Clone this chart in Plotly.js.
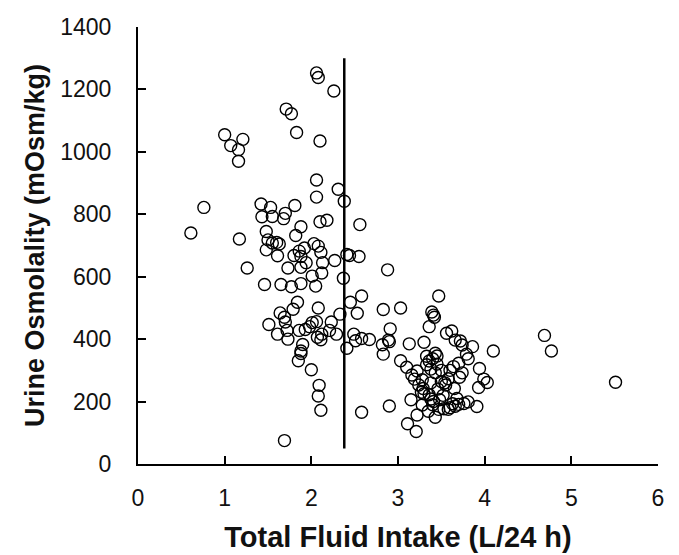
<!DOCTYPE html>
<html>
<head>
<meta charset="utf-8">
<script src="https://cdn.plot.ly/plotly-3.0.1.min.js"></script>
<style>html,body{margin:0;padding:0;background:#fff}#chart{width:679px;height:555px}</style>
</head>
<body>
<div id="chart"></div>
<script>
// Total fluid intake (L/24 h)
const fluidIntake = [
  0.61,0.76,1.00,1.07,1.16,1.16,1.21,1.17,1.26,
  1.71,1.77,1.83,2.06,2.08,2.26,2.10,2.06,2.06,2.31,2.38,
  1.42,1.53,1.81,1.70,1.43,1.55,1.68,2.10,2.18,2.56,1.88,
  1.48,1.50,1.55,1.60,1.63,1.48,1.82,2.03,2.08,1.92,1.86,1.80,2.11,1.61,2.27,2.41,2.44,2.55,1.88,1.94,2.13,1.73,1.88,2.01,2.12,2.37,2.88,
  1.46,1.65,1.88,1.77,2.05,2.58,1.84,2.45,1.79,2.08,2.53,2.33,2.83,3.03,
  1.64,1.69,1.51,2.01,2.06,2.23,1.70,1.61,1.72,1.86,1.93,1.98,2.21,2.29,2.12,2.07,2.11,1.73,1.90,1.88,1.88,1.85,2.00,2.09,2.08,2.11,1.69,
  2.49,2.51,2.58,2.67,2.41,2.91,2.90,2.82,2.83,2.58,2.90,2.89,
  3.47,3.39,3.41,3.42,3.36,3.56,3.62,3.66,3.72,3.74,3.86,4.10,3.13,3.30,4.69,4.77,5.51,
  3.03,3.10,3.16,3.19,3.22,3.94,3.99,4.03,3.93,3.91,3.11,3.21,3.22,3.15,
  3.79,3.81,3.70,3.64,3.74,3.71,3.65,3.58,3.50,3.55,3.43,3.45,3.40,3.33,3.38,3.43,3.28,3.24,3.29,3.36,3.38,3.40,
  3.63,3.70,3.76,3.81,3.53,3.58,3.43,3.35,3.48,3.28,
  3.33,3.36,3.45,3.50,3.30,3.46,3.52,3.60,3.66,3.47,3.38,3.60,3.27,3.41,3.54,3.68
];
// Urine osmolality (mOsm/kg)
const urineOsm = [
  740,822,1055,1020,1007,970,1040,721,628,
  1137,1122,1062,1253,1238,1195,1035,910,855,880,842,
  833,822,828,803,792,793,786,776,781,767,760,
  745,718,708,710,705,686,732,706,698,692,682,668,678,667,652,671,668,665,665,645,645,628,630,602,612,595,622,
  575,575,578,568,570,538,518,518,496,500,483,480,495,500,
  484,470,447,453,456,455,455,416,428,428,431,440,428,416,416,406,398,400,383,362,354,331,302,252,218,172,75,
  416,395,402,399,371,433,392,382,352,166,186,397,
  538,487,477,470,440,419,426,397,394,381,376,362,385,390,412,362,262,
  331,310,285,272,298,306,272,261,245,184,129,104,157,206,
  352,337,323,312,292,278,242,273,264,253,355,346,337,318,304,292,270,253,242,222,208,190,
  193,191,194,199,177,175,150,169,206,189,
  345,330,320,300,225,240,220,180,185,175,260,300,230,200,260,210
];
// Reference (vertical) line
const refLineX = [2.38, 2.38];
const refLineY = [50, 1300];
const xTickVals = [0,1,2,3,4,5,6];
const yTickVals = [0,200,400,600,800,1000,1200,1400];

const traces = [
  {x: fluidIntake, y: urineOsm, type: 'scatter', mode: 'markers',
   marker: {symbol: 'circle-open', size: 12, color: '#000', line: {width: 1.4, color: '#000'}},
   hoverinfo: 'x+y', showlegend: false},
  {x: refLineX, y: refLineY, type: 'scatter', mode: 'lines',
   line: {color: '#000', width: 2.5}, showlegend: false, hoverinfo: 'skip'}
];

const layout = {
  width: 679, height: 555,
  margin: {l: 138, r: 21, t: 27, b: 91},
  paper_bgcolor: '#fff', plot_bgcolor: '#fff',
  font: {family: 'Arial, "Liberation Sans", sans-serif', color: '#111', size: 22},
  xaxis: {
    range: [0, 6], tickvals: xTickVals, ticktext: xTickVals.map(String),
    showgrid: false, zeroline: false, showline: true, linecolor: '#000', linewidth: 2,
    ticks: 'inside', ticklen: 8, tickwidth: 2, tickcolor: '#000',
    tickfont: {size: 23, color: '#111'}, ticklabelstandoff: 12,
    title: {text: '<b>Total Fluid Intake (L/24 h)</b>', font: {size: 29, color: '#111'}, standoff: 17},
    fixedrange: true, automargin: false
  },
  yaxis: {
    range: [0, 1400], tickvals: yTickVals, ticktext: yTickVals.map(String),
    showgrid: false, zeroline: false, showline: true, linecolor: '#000', linewidth: 2,
    ticks: 'inside', ticklen: 8, tickwidth: 2, tickcolor: '#000',
    tickfont: {size: 23, color: '#111'}, ticklabelstandoff: 20,
    title: {text: '<b>Urine Osmolality (mOsm/kg)</b>', font: {size: 27, color: '#111'}, standoff: 8},
    fixedrange: true, automargin: false
  },
  showlegend: false
};

Plotly.newPlot('chart', traces, layout, {displayModeBar: false, staticPlot: true});
</script>
</body>
</html>
